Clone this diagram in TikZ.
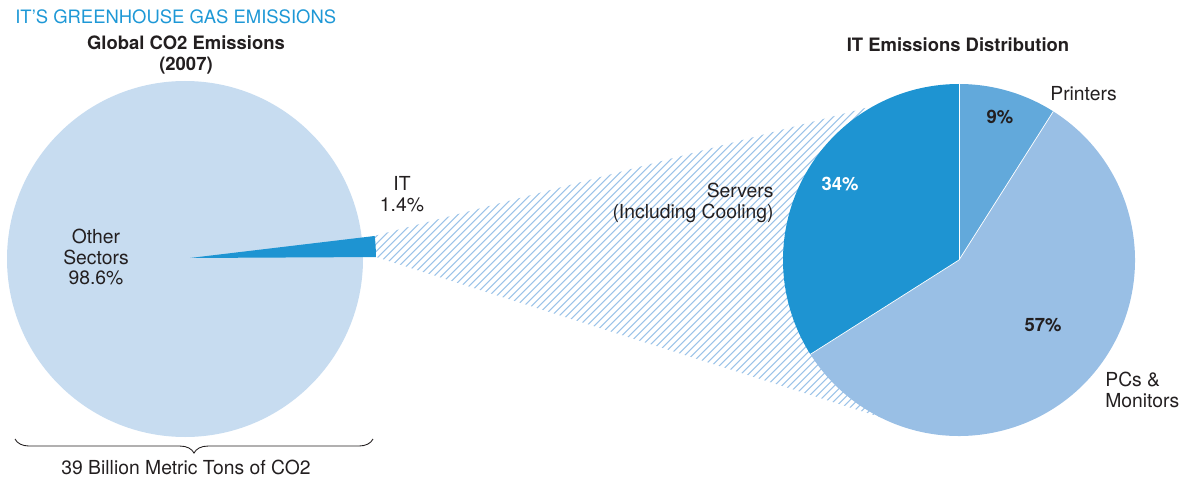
\documentclass[tikz,border=0pt]{standalone}
\usepackage{fontspec}
\setmainfont{TeX Gyre Heros}
\usetikzlibrary{decorations.pathreplacing}
\definecolor{sectorbg}{HTML}{C7DCF0}
\definecolor{itblue}{HTML}{1E94D2}
\definecolor{printblue}{HTML}{62A9DB}
\definecolor{pcblue}{HTML}{99BFE5}
\definecolor{hatchblue}{HTML}{9CC3E8}
\definecolor{titleblue}{HTML}{1E98D6}
\definecolor{ink}{HTML}{231F20}
\tikzset{
  lbl/.style={font=\fontsize{11}{11.9}\selectfont, text=ink, inner sep=0pt, align=center},
  blbl/.style={lbl, font=\fontsize{10.5}{11.9}\selectfont\bfseries},
}
\begin{document}
\begin{tikzpicture}[x=0.02cm, y=0.02cm]
\useasboundingbox (0,0) rectangle (1197,-483);

% cone linking the IT slice to the breakdown pie
\coordinate (wt) at (374,-236);
\coordinate (wb) at (376,-257);
\coordinate (ct) at (873,-106);
\coordinate (cb) at (883,-418);
\coordinate (rc) at (959,-260);
\begin{scope}
  \clip (wt) -- (ct) -- (rc) -- (cb) -- (wb) -- cycle;
  \foreach \k in {0,...,150}
    \draw[hatchblue, line width=0.6pt] (300+7.5*\k-400,-480) -- ++(400,400);
\end{scope}

% global emissions pie
\fill[sectorbg] (185,-259) circle[radius=178];
\coordinate (lc) at (190,-258);
\fill[itblue] (lc) -- ++(0.3:186) arc[start angle=0.3, end angle=6.8, radius=186] -- cycle;

% IT emissions pie
\fill[printblue] (rc) -- ++(90:176) arc[start angle=90, end angle=57.6, radius=176] -- cycle;
\fill[pcblue] (rc) -- ++(57.6:176) arc[start angle=57.6, end angle=-147.6, radius=176] -- cycle;
\fill[itblue] (rc) -- ++(90:176) arc[start angle=90, end angle=212.4, radius=176] -- cycle;
\draw[white, line width=0.4pt] (rc) -- ++(90:176);
\draw[white, line width=0.4pt] (rc) -- ++(57.6:176);
\draw[white, line width=0.4pt] (rc) -- ++(212.4:176);

% headings
\node[anchor=west, inner sep=0pt, text=titleblue, font=\fontsize{10.5}{12}\selectfont] (title) at (15,-17) {IT’S GREENHOUSE GAS EMISSIONS};
\node[blbl] (gtitle) at (186,-55) {Global CO2 Emissions\\(2007)};
\node[blbl] (rtitle) at (958,-45) {IT Emissions Distribution};

% left pie labels
\node[lbl] (other) at (96,-257) {Other\\Sectors\\98.6\%};
\node[lbl] (itl) at (402,-194) {IT\\1.4\%};

% brace with total
\coordinate (bl) at (15,-439);
\coordinate (br) at (373,-439);
\draw[ink, line width=0.5pt, decorate, decoration={brace, mirror, amplitude=8pt}] (bl) -- (br);
\node[lbl] (total) at (186,-467) {39 Billion Metric Tons of CO2};

% right pie labels
\node[lbl, anchor=west] (printers) at (1050,-94) {Printers};
\node[blbl] (p9) at (1000,-117) {9\%};
\node[blbl, text=white] (p34) at (840,-184) {34\%};
\node[blbl] (p57) at (1043,-325) {57\%};
\node[lbl, align=left, anchor=west] (pcs) at (1105,-390) {PCs \&\\Monitors};
\node[lbl, align=right, anchor=east] (servers) at (774,-203) {Servers\\(Including Cooling)};
\end{tikzpicture}
\end{document}
